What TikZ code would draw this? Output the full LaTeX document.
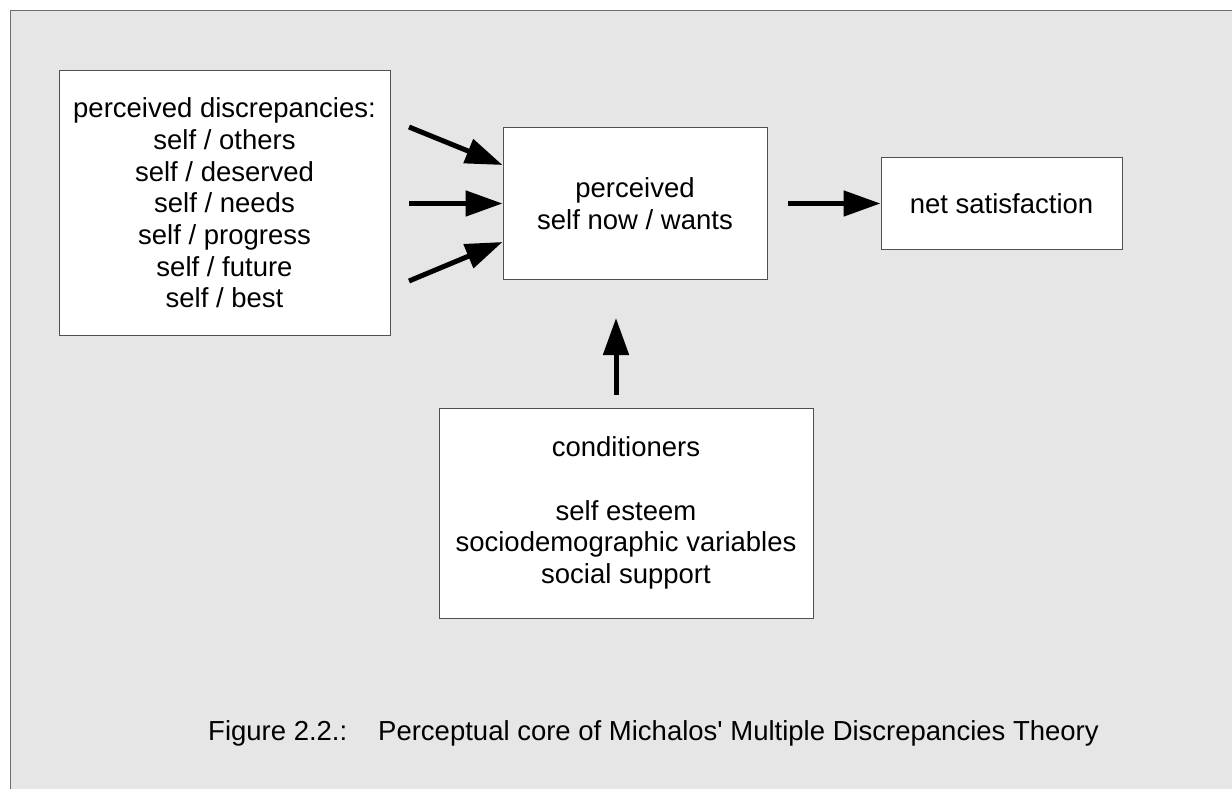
\documentclass[tikz,border=0pt]{standalone}
\usepackage{fontspec}
\setmainfont{Liberation Sans}
\usetikzlibrary{arrows.meta,calc}
\definecolor{panel}{HTML}{E6E6E6}
\definecolor{frameline}{HTML}{6E6E6E}
\definecolor{boxline}{HTML}{505050}
\tikzset{
  box/.style={draw=boxline, line width=1pt, fill=white, inner sep=0pt,
              align=center, font=\fontsize{27.5pt}{31.7pt}\selectfont},
  bigarrow/.style={line width=5pt, -{Triangle[length=37pt,width=25pt]}},
  caption/.style={anchor=base west, inner sep=0pt,
                  font=\fontsize{27.5pt}{31.7pt}\selectfont}
}
\begin{document}
\begin{tikzpicture}[x=1pt,y=-1pt]
  % page and grey panel
  \useasboundingbox (0,0) rectangle (1232,789);
  \fill[white] (0,0) rectangle (1232,789);
  \fill[panel] (10,11) rectangle (1232,789);
  \draw[frameline, line width=1pt] (10,789) -- (10,11) -- (1232,11);

  % boxes
  \node[box, minimum width=331pt, minimum height=264pt] (disc) at (224.5,203)
    {perceived discrepancies:\\ self / others\\ self / deserved\\ self / needs\\
     self / progress\\ self / future\\ self / best};
  \node[box, minimum width=264pt, minimum height=151pt] (gap) at (635,203.5)
    {perceived\\ self now / wants};
  \node[box, minimum width=241pt, minimum height=91pt] (net) at (1001.5,203.5)
    {net satisfaction};
  \node[box, minimum width=374pt, minimum height=210pt] (cond) at (626,513)
    {conditioners\\ \\ self esteem\\ sociodemographic variables\\ social support};

  % arrow tails
  \coordinate (t1) at (409,127);
  \coordinate (t2) at (409,203.5);
  \coordinate (t3) at (409,281);
  \coordinate (t4) at (788,203.5);
  \coordinate (t5) at (616,395);
  \coordinate (h5) at (616,318);

  % arrows
  \draw[bigarrow] (t1) -- ($(gap.west)+(0,-38.5)$);
  \draw[bigarrow] (t2) -- (gap.west);
  \draw[bigarrow] (t3) -- ($(gap.west)+(0,38.5)$);
  \draw[bigarrow] (t4) -- (net.west);
  \draw[bigarrow] (t5) -- (h5);

  % caption
  \node[caption] (fig) at (208,740) {Figure 2.2.:};
  \node[caption] (title) at (378,740)
    {Perceptual core of Michalos\textquotesingle{} Multiple Discrepancies Theory};
\end{tikzpicture}
\end{document}
